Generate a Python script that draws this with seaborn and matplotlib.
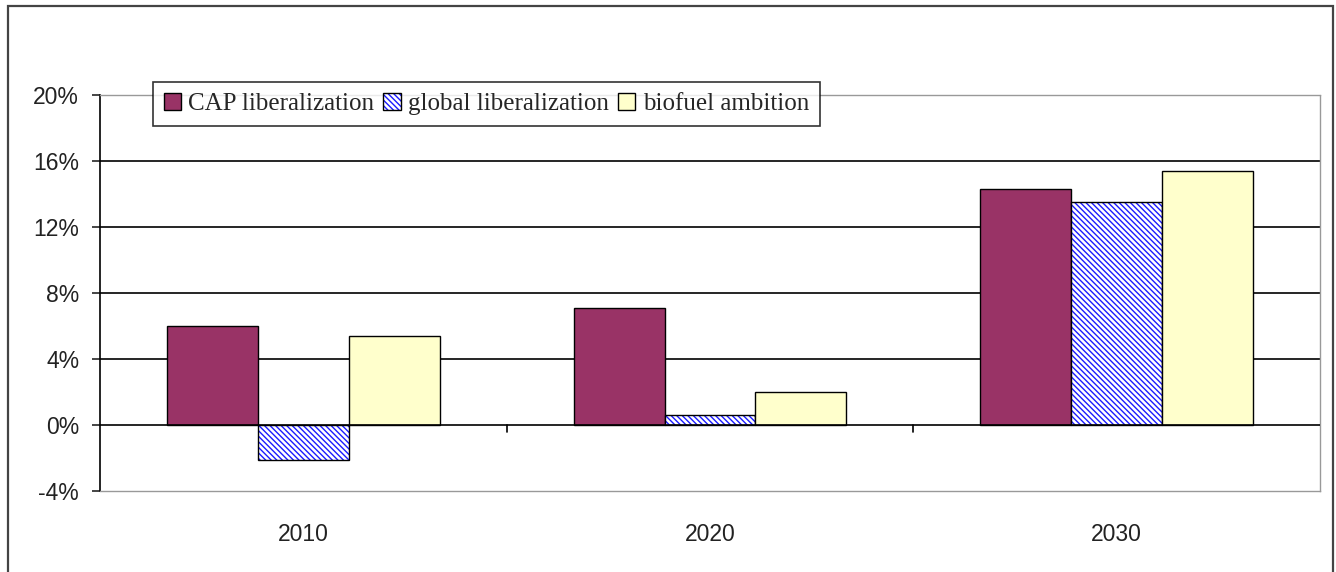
import numpy as np
import pandas as pd
import seaborn as sns
import matplotlib.pyplot as plt
from matplotlib.colors import to_rgba
from matplotlib.patches import Rectangle
from matplotlib.ticker import FixedLocator, PercentFormatter

## 数据
years = ["2010", "2020", "2030"]
scenarios = ["CAP liberalization", "global liberalization", "biofuel ambition"]
cap_lib = [0.060, 0.071, 0.143]
global_lib = [-0.021, 0.006, 0.135]
biofuel = [0.054, 0.020, 0.154]
colors = ["#993366", "#ffffff", "#ffffcc"]

df = pd.DataFrame({
    "year": years * 3,
    "value": cap_lib + global_lib + biofuel,
    "scenario": [s for s in scenarios for _ in years],
})

sns.set_style("white")
plt.rcParams['font.family'] = ['Liberation Sans', 'DejaVu Sans']
plt.rcParams['axes.unicode_minus'] = False
plt.rcParams['hatch.linewidth'] = 1.0

fig = plt.figure(figsize=(13.36, 5.72), dpi=100)
ax = fig.add_axes([100 / 1336, 81 / 572, 1220 / 1336, 396 / 572])

sns.barplot(data=df, x="year", y="value", hue="scenario", palette=colors,
            saturation=1, width=0.67, edgecolor="black", linewidth=1.0,
            ax=ax, legend=False)

# 斜线填充 (global liberalization)
for bar in ax.containers[1]:
    bar.set_hatch("\\\\\\\\\\\\")
    bar._hatch_color = to_rgba("#1a1aff")

ax.set_ylim(-0.04, 0.20)
ax.set_xlim(-0.5, 2.5)
ax.yaxis.set_major_locator(FixedLocator([-0.04, 0, 0.04, 0.08, 0.12, 0.16, 0.20]))
ax.yaxis.set_major_formatter(PercentFormatter(1.0, decimals=0))
ax.set_xlabel("")
ax.set_ylabel("")

# 网格线
for y in [0.04, 0.08, 0.12, 0.16]:
    ax.axhline(y, color="black", lw=1.2, zorder=0)
ax.axhline(0, color="black", lw=1.2, zorder=3)

# 绘图区边框
for s in ["top", "right", "bottom"]:
    ax.spines[s].set_visible(True)
    ax.spines[s].set_color("#999999")
    ax.spines[s].set_linestyle((0, (1, 1)))
    ax.spines[s].set_linewidth(1.0)
ax.spines["left"].set_color("black")
ax.spines["left"].set_linewidth(1.2)

ax.tick_params(axis="y", direction="out", length=6, width=1.2, left=True,
               labelsize=16.5, pad=9)
ax.set_xticks(np.arange(len(years)))
ax.set_xticklabels(years)
ax.tick_params(axis="x", which="major", length=0, labelsize=16.5, pad=23)
# 类别分隔刻度 (在 0% 线下方)
for xm in [0.5, 1.5]:
    ax.plot([xm, xm], [0, -0.0045], color="black", lw=1.2, clip_on=False)
for lab in ax.get_xticklabels() + ax.get_yticklabels():
    lab.set_color("#222222")

handles = [ax.containers[i].patches[0] for i in range(3)]
leg = fig.legend(handles, scenarios, loc="upper left", ncol=3,
                 bbox_to_anchor=(153 / 1336, 1 - 82 / 572),
                 frameon=True, fancybox=False, edgecolor="black",
                 prop={"family": "Liberation Serif", "size": 18},
                 handlelength=0.7, handleheight=0.7, handletextpad=0.3,
                 columnspacing=0.35, borderpad=0.42, borderaxespad=0)
leg.get_frame().set_linewidth(1.2)

# 图表外框
fig.patches.append(Rectangle((8 / 1336, -0.1), 1325 / 1336, 1.1 - 6 / 572,
                             transform=fig.transFigure, fill=False,
                             edgecolor="#444444", lw=1.6, clip_on=False))

fig.savefig("out.png", dpi=100)
